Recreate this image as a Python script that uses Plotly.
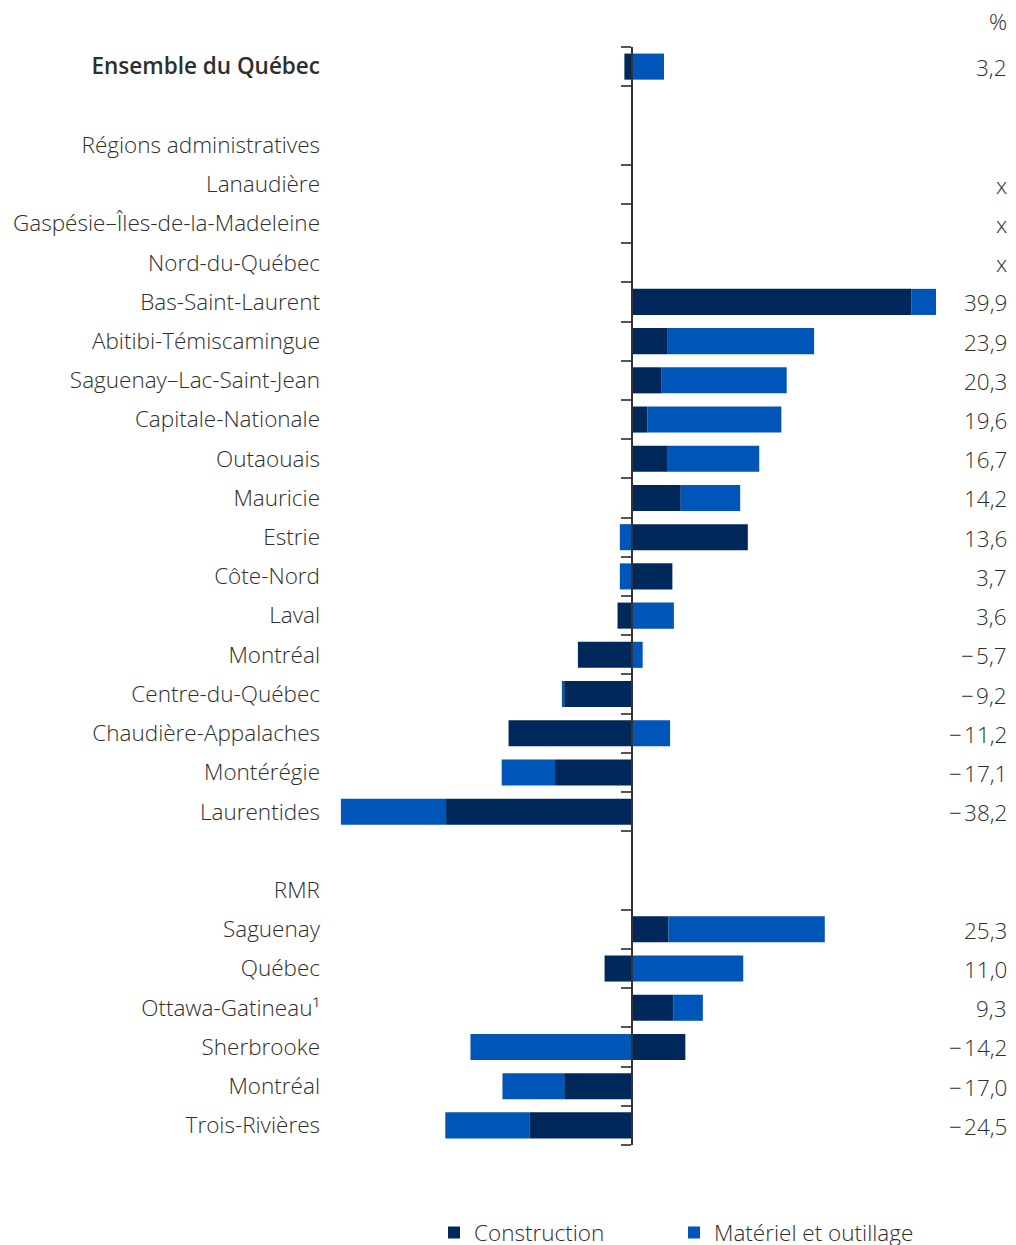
import plotly.graph_objects as go

labels = ['<span style="font-weight:600">Ensemble du Québec</span>', "", "Régions administratives",
          "Lanaudière", "Gaspésie–Îles-de-la-Madeleine", "Nord-du-Québec", "Bas-Saint-Laurent",
          "Abitibi-Témiscamingue", "Saguenay–Lac-Saint-Jean", "Capitale-Nationale",
          "Outaouais", "Mauricie", "Estrie", "Côte-Nord", "Laval", "Montréal",
          "Centre-du-Québec", "Chaudière-Appalaches", "Montérégie", "Laurentides",
          "", "RMR", "Saguenay", "Québec", "Ottawa-Gatineau¹", "Sherbrooke",
          "Montréal", "Trois-Rivières"]

# row kind: d = data row, x = suppressed data, h = header / blank
kinds = ["d", "h", "h", "x", "x", "x", "d", "d", "d", "d", "d", "d", "d", "d", "d", "d",
         "d", "d", "d", "d", "h", "h", "d", "d", "d", "d", "d", "d"]

construction = [-1.0, None, None, None, None, None, 36.7, 4.6, 3.9, 2.0, 4.7, 6.4, 15.2,
                5.3, -1.9, -7.1, -8.9, -16.2, -10.1, -24.4, None, None, 4.8, -3.6, 5.4,
                7.0, -8.9, -13.4]
materiel = [4.2, None, None, None, None, None, 3.2, 19.3, 16.4, 17.6, 12.0, 7.8, -1.6,
            -1.6, 5.5, 1.4, -0.3, 5.0, -7.0, -13.8, None, None, 20.5, 14.6, 3.9,
            -21.2, -8.1, -11.1]
totals = [3.2, None, None, None, None, None, 39.9, 23.9, 20.3, 19.6, 16.7, 14.2, 13.6,
          3.7, 3.6, -5.7, -9.2, -11.2, -17.1, -38.2, None, None, 25.3, 11.0, 9.3,
          -14.2, -17.0, -24.5]

series_names = ["Construction", "Matériel et outillage"]
colors = ["#00285A", "#0055B8"]

FONT = "Open Sans"
TXT = "#2e2e2e"
FS = 22.5

pos = list(range(len(labels)))

fig = go.Figure()
for name, vals, col in zip(series_names, [construction, materiel], colors):
    fig.add_trace(go.Bar(
        y=pos, x=vals, name=name, orientation="h",
        marker=dict(color=col, line=dict(width=0)),
        hoverinfo="skip",
    ))

# invisible trace so the zero axis (yaxis2) is drawn
fig.add_trace(go.Scatter(x=[0], y=[0], yaxis="y2", mode="markers",
                         marker=dict(opacity=0), showlegend=False, hoverinfo="skip"))


def fmt(v):
    s = f"{abs(v):.1f}".replace(".", ",")
    return ("\u2212\u200a" + s) if v < 0 else s


# boundaries for tick marks on the zero axis
bounds = sorted({p + d for p, k in zip(pos, kinds) if k != "h" for d in (-0.5, 0.5)})

annotations = []
for p, k, t in zip(pos, kinds, totals):
    if k == "d":
        txt = fmt(t)
    elif k == "x":
        txt = "x"
    else:
        continue
    annotations.append(dict(x=1, xref="paper", xanchor="right", xshift=-3, y=p, yref="y",
                            yshift=-1, text=txt, showarrow=False,
                            font=dict(family=FONT, size=FS, color=TXT, weight=300)))
annotations.append(dict(x=1, xref="paper", xanchor="right", xshift=-3, y=1.023, yref="paper",
                        yanchor="middle", text="%", showarrow=False,
                        font=dict(family=FONT, size=FS, color=TXT, weight=300)))

W, H = 1008, 1237
L, R, T, B = 322, 4, 39, 100
plot_w = W - L - R
zero_px = 624
px_per_unit = 7.62
x_left = -(zero_px - L) / px_per_unit
x_right = (W - R - zero_px) / px_per_unit

fig.update_layout(
    width=W, height=H,
    margin=dict(l=L, r=R, t=T, b=B, autoexpand=False),
    barmode="relative", bargap=0.335,
    plot_bgcolor="white", paper_bgcolor="white",
    font=dict(family=FONT, size=FS, color=TXT),
    showlegend=True,
    legend=dict(orientation="h", x=0.1525, xanchor="left", y=-0.0801, yanchor="middle",
                font=dict(family=FONT, size=FS, color=TXT, weight=300),
                entrywidth=195, entrywidthmode="pixels", traceorder="normal"),
    xaxis=dict(range=[x_left, x_right], showgrid=False, zeroline=False,
               showticklabels=False, ticks="", showline=False, fixedrange=True),
    yaxis=dict(range=[len(labels) - 0.5, -0.5], tickmode="array", tickvals=pos,
               ticktext=labels, ticks="", showgrid=False, zeroline=False,
               showline=False, ticklabelstandoff=9,
               tickfont=dict(family=FONT, size=FS, color=TXT, weight=300)),
    yaxis2=dict(range=[len(labels) - 0.5, -0.5], overlaying="y", anchor="free",
                side="left", position=(zero_px - L) / plot_w, showline=True,
                linecolor="#333333", linewidth=1.5, ticks="outside", ticklen=10,
                tickwidth=1.5, tickcolor="#555555", tickmode="array",
                tickvals=bounds, showticklabels=False, showgrid=False, zeroline=False),
    annotations=annotations,
)

fig.write_html("out.html")
